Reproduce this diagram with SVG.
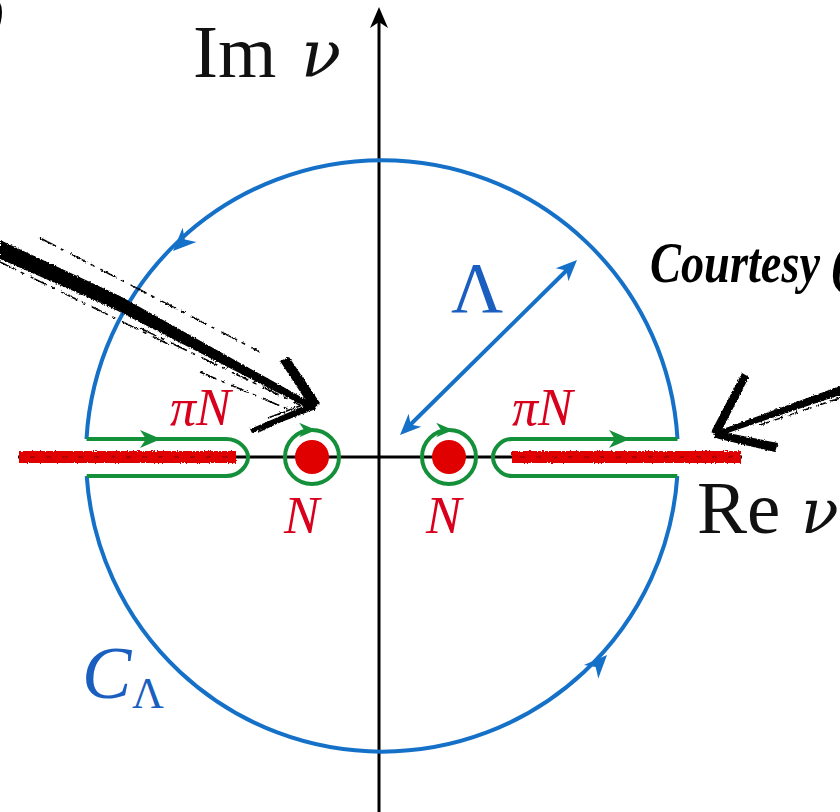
<svg xmlns="http://www.w3.org/2000/svg" xmlns:xlink="http://www.w3.org/1999/xlink" width="840" height="812" viewBox="0 0 840 812">
<style>
.blue{fill:none;stroke:#1570c8;stroke-width:4}
.green{fill:none;stroke:#15903a;stroke-width:4}
.axis{fill:none;stroke:#000;stroke-width:3}
.cut{fill:none;stroke:#e00000;stroke-width:12}
.brush{fill:#000}
.lbl{font-family:"Liberation Serif","DejaVu Serif",serif}
.nu{font-family:"DejaVu Serif","Liberation Serif",serif;font-style:italic}
.it{font-style:italic}
.red{fill:#d8001c}
.bl{fill:#1a5fc0}
.blk{fill:#111}
.script{font-family:"Liberation Serif",serif;font-style:italic;font-weight:bold;fill:#000}
</style>
<defs>
<path id="ah" d="M0,0 L-21,-9 L-15,0 L-21,9 Z"/>
<filter id="rough" filterUnits="userSpaceOnUse" x="0" y="0" width="840" height="812">
<feTurbulence type="fractalNoise" baseFrequency="0.7" numOctaves="2" seed="3"/>
<feDisplacementMap in="SourceGraphic" scale="3" xChannelSelector="R" yChannelSelector="G"/>
</filter>
</defs>
<rect width="840" height="812" fill="#fff"/>

<g id="axes">
<line class="axis" x1="379" y1="22" x2="379" y2="812"/>
<use xlink:href="#ah" transform="translate(379,7) rotate(-90)" fill="#000"/>
<line class="axis" x1="18" y1="457" x2="742" y2="457"/>
</g>

<g id="branch-cuts" filter="url(#rough)">
<line class="cut" x1="19" y1="457" x2="236" y2="457"/>
<line class="cut" x1="512" y1="457" x2="741" y2="457"/>
<line x1="30" y1="457" x2="230" y2="457" stroke="#b00000" stroke-width="2" stroke-dasharray="5 11"/>
<line x1="520" y1="457" x2="736" y2="457" stroke="#b00000" stroke-width="2" stroke-dasharray="5 11"/>
</g>

<g id="contour-C">
<path class="blue" d="M677.5,439 A296,296 0 0 0 86.5,439"/>
<path class="blue" d="M86.7,476 A296,296 0 0 0 677.3,476"/>
<use xlink:href="#ah" transform="translate(173,251) rotate(135.7) scale(1.1)" fill="#1570c8"/>
<use xlink:href="#ah" transform="translate(607,655) rotate(-46.6) scale(1.1)" fill="#1570c8"/>
</g>

<g id="keyhole-left">
<path class="green" d="M86.5,439 H226 C240,439 248,450 248,457 C248,465 240,476 226,476 H86.7"/>
<use xlink:href="#ah" transform="translate(161,439)" fill="#15903a"/>
</g>
<g id="keyhole-right">
<path class="green" d="M677.5,439 H512 C500,439 493,450 493,457 C493,465 500,476 512,476 H677.3"/>
<use xlink:href="#ah" transform="translate(630,439)" fill="#15903a"/>
</g>

<g id="pole-left">
<circle class="green" cx="312" cy="457" r="27"/>
<use xlink:href="#ah" transform="translate(316,430) scale(0.8)" fill="#15903a"/>
<circle cx="312" cy="457" r="17" fill="#e00000"/>
</g>
<g id="pole-right">
<circle class="green" cx="449" cy="457" r="27"/>
<use xlink:href="#ah" transform="translate(453,430) scale(0.8)" fill="#15903a"/>
<circle cx="449" cy="457" r="17" fill="#e00000"/>
</g>

<g id="radius-arrow">
<line class="blue" x1="410" y1="425" x2="567" y2="270"/>
<use xlink:href="#ah" transform="translate(400,435) rotate(135.3)" fill="#1570c8"/>
<use xlink:href="#ah" transform="translate(577,260) rotate(-44.7)" fill="#1570c8"/>
</g>

<g id="labels" class="lbl">
<text x="193" y="77" font-size="75" class="blk">Im</text>
<text x="301" y="77" font-size="66" class="blk nu">ν</text>
<text x="697" y="533" font-size="75" class="blk">Re</text>
<text x="801" y="533" font-size="62" class="blk nu">ν</text>
<text x="170" y="425" font-size="52" class="red it">πN</text>
<text x="512" y="425" font-size="52" class="red it">πN</text>
<text x="284" y="533" font-size="53" class="red it">N</text>
<text x="426" y="533" font-size="53" class="red it">N</text>
<text x="477" y="312" font-size="72" class="bl" text-anchor="middle">Λ</text>
<text x="82" y="698" font-size="74" class="bl it">C</text>
<text x="132" y="708" font-size="44" class="bl">Λ</text>
</g>

<g id="annotation">
<text x="650" y="282" font-size="58" class="script" textLength="170" lengthAdjust="spacingAndGlyphs">Courtesy</text>
<text x="830" y="282" font-size="58" class="script">(</text>
<text x="-12" y="32" font-size="52" class="script">)</text>
</g>

<g id="brush-arrows" filter="url(#rough)">
<path class="brush" d="M0,240 L120,296 L312,403 L308,408 L110,307 L0,259 Z"/>
<path d="M0,262 L170,345 M140,328 L300,405 M40,238 L260,352 M200,372 L290,410" stroke="#000" stroke-width="1.5" stroke-dasharray="18 5 4 7" fill="none"/>
<path class="brush" d="M280,361 L289,357 L320,403 L312,410 Z"/>
<path class="brush" d="M313,402 L316,409 L252,433 L250,429 Z"/>
<path d="M300,412 L258,432 M305,404 L268,418" stroke="#000" stroke-width="1.5" fill="none"/>
<path class="brush" d="M840,386 L840,395 L722,435 L720,430 Z"/>
<path d="M840,398 L760,425" stroke="#000" stroke-width="1.5" stroke-dasharray="10 5" fill="none"/>
<path class="brush" d="M711,432 L719,436 L749,377 L742,373 Z"/>
<path class="brush" d="M713,430 L715,438 L775,452 L778,443 Z"/>
</g>
</svg>
